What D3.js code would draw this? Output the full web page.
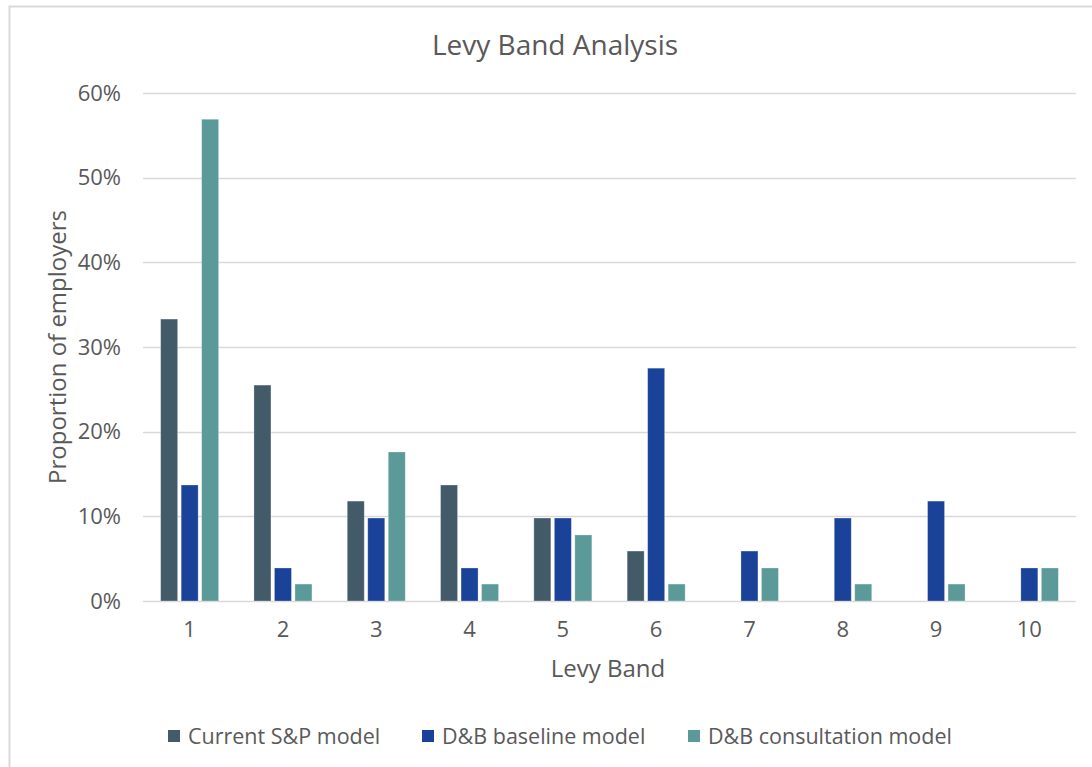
<!DOCTYPE html>
<html>
<head>
<meta charset="utf-8">
<script src="https://cdn.jsdelivr.net/npm/d3@7"></script>
<style>
  html, body { margin: 0; padding: 0; background: #fff; }
  svg { display: block; }
  text { font-family: "Open Sans", "Noto Sans", sans-serif; fill: #595959; }
</style>
</head>
<body>
<svg id="chart" width="1092" height="767"></svg>
<script>
// Levy bands and share of employers (%) per model
const bands = ["1", "2", "3", "4", "5", "6", "7", "8", "9", "10"];
const currentSP = [33.3, 25.5, 11.8, 13.7, 9.8, 5.9, 0, 0, 0, 0];
const dbBaseline = [13.7, 3.9, 9.8, 3.9, 9.8, 27.5, 5.9, 9.8, 11.8, 3.9];
const dbConsultation = [56.9, 2.0, 17.6, 2.0, 7.8, 2.0, 3.9, 2.0, 2.0, 3.9];
const seriesNames = ["Current S&P model", "D&B baseline model", "D&B consultation model"];
const yTicks = [0, 10, 20, 30, 40, 50, 60];

const seriesValues = [currentSP, dbBaseline, dbConsultation];
const colors = ["#435a69", "#1b4299", "#5b9a98"];

const svg = d3.select("#chart");

// outer chart frame
svg.append("rect")
  .attr("x", 9.5).attr("y", 6.5)
  .attr("width", 1200).attr("height", 900)
  .attr("fill", "none").attr("stroke", "#d9d9d9").attr("stroke-width", 2);

const plot = { left: 143, right: 1076, top: 93, bottom: 601 };

const x = d3.scaleBand().domain(bands).range([plot.left, plot.right]);
const y = d3.scaleLinear().domain([0, 60]).range([plot.bottom, plot.top]);

const barW = 17, barGap = 3.5;
const groupW = barW * 3 + barGap * 2;
const xInner = d3.scaleOrdinal().domain([0, 1, 2])
  .range([0, barW + barGap, 2 * (barW + barGap)]);

// gridlines
svg.append("g")
  .selectAll("line")
  .data(yTicks)
  .join("line")
  .attr("x1", plot.left).attr("x2", plot.right)
  .attr("y1", d => Math.round(y(d)) + 0.5).attr("y2", d => Math.round(y(d)) + 0.5)
  .attr("stroke", "#d9d9d9").attr("stroke-width", 1.3);

// y axis labels
const yAxis = d3.axisLeft(y).tickValues(yTicks).tickSize(0).tickPadding(0)
  .tickFormat(d => d + "%");
svg.append("g")
  .attr("transform", `translate(121,0)`)
  .call(yAxis)
  .call(g => g.select(".domain").remove())
  .call(g => g.selectAll("text")
    .attr("font-size", 22).attr("fill", "#595959")
    .style("font-family", '"Open Sans", sans-serif'));

// x axis labels
const xAxis = d3.axisBottom(x).tickSize(0).tickPadding(0);
svg.append("g")
  .attr("transform", `translate(0,${plot.bottom + 20})`)
  .call(xAxis)
  .call(g => g.select(".domain").remove())
  .call(g => g.selectAll("text")
    .attr("font-size", 22).attr("fill", "#595959")
    .style("font-family", '"Open Sans", sans-serif'));

// bars
const groups = svg.append("g")
  .selectAll("g")
  .data(seriesValues)
  .join("g")
  .attr("fill", (d, i) => colors[i]);

groups.each(function (vals, si) {
  d3.select(this).selectAll("rect")
    .data(vals.map((v, bi) => ({ v, band: bands[bi] })).filter(d => d.v > 0))
    .join("rect")
    .attr("x", d => x(d.band) + x.bandwidth() / 2 - groupW / 2 + xInner(si))
    .attr("y", d => y(d.v))
    .attr("width", barW)
    .attr("height", d => y(0) - y(d.v))
    .attr("stroke", "#ffffff").attr("stroke-opacity", 0.35).attr("stroke-width", 0.8);
});

// titles
svg.append("text")
  .attr("x", 555).attr("y", 55)
  .attr("text-anchor", "middle").attr("font-size", 28)
  .text("Levy Band Analysis");

svg.append("text")
  .attr("x", 608).attr("y", 677)
  .attr("text-anchor", "middle").attr("font-size", 24)
  .text("Levy Band");

svg.append("text")
  .attr("transform", "translate(66,347) rotate(-90)")
  .attr("text-anchor", "middle").attr("font-size", 24)
  .text("Proportion of employers");

// legend
const legendX = [168, 422, 688];
const legend = svg.append("g")
  .selectAll("g")
  .data(seriesNames)
  .join("g")
  .attr("transform", (d, i) => `translate(${legendX[i]},736)`);
legend.append("rect")
  .attr("x", 0).attr("y", -6).attr("width", 12).attr("height", 12)
  .attr("fill", (d, i) => colors[i]);
legend.append("text")
  .attr("x", 20).attr("y", 8)
  .attr("font-size", 21.5)
  .text(d => d);
</script>
</body>
</html>
